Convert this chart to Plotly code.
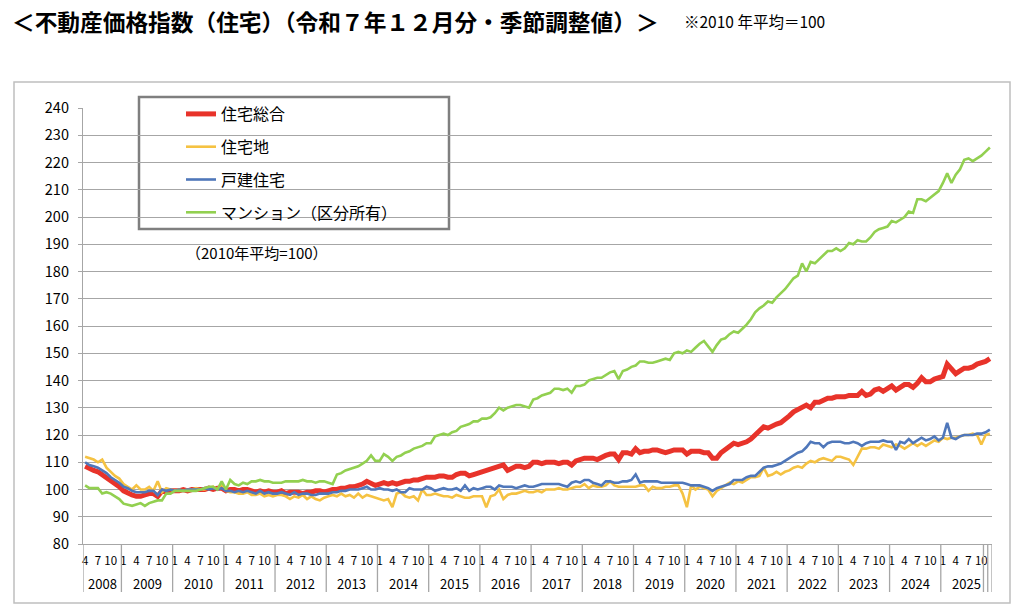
import plotly.graph_objects as go

# ---------------- data ----------------
# monthly categories: Apr 2008 .. Dec 2025
years = [2008] * 9 + [y for y in range(2009, 2026) for _ in range(12)]
months = list(range(4, 13)) + [m for _ in range(2009, 2026) for m in range(1, 13)]
year_labels = [str(y) for y in range(2008, 2026)]
month_tick_labels = ["1", "4", "7", "10"]

series_names = ["住宅総合", "住宅地", "戸建住宅", "マンション（区分所有）"]

sogo = [
    108.5, 107.5, 107.0, 106.5, 105.5, 104.5, 103.0, 102.0, 101.0,
    99.5, 98.5, 98.0, 97.5, 97.5, 98.0, 98.5, 98.5, 97.5, 99.5, 99.0, 99.5,
    99.5, 99.5, 100.0, 99.5, 100.0, 100.0, 100.0, 100.0, 100.5, 100.0, 100.5, 100.5,
    99.5, 100.0, 100.0, 99.5, 100.0, 100.0, 99.5, 99.0, 99.5, 99.0, 99.5, 99.0,
    99.0, 99.5, 98.5, 99.0, 99.0, 99.0, 98.5, 99.0, 99.0, 99.5, 99.5, 99.0,
    99.5, 100.0, 100.0, 100.5, 100.5, 101.0, 101.0, 101.5, 102.0, 103.0, 102.0, 101.5,
    102.0, 102.5, 102.0, 102.5, 102.0, 102.5, 103.0, 103.0, 103.5, 103.5, 104.0, 104.5,
    104.5, 104.5, 105.0, 105.0, 104.5, 104.5, 105.5, 106.0, 106.0, 105.0, 105.5, 106.0,
    106.5, 107.0, 107.5, 108.0, 108.5, 109.0, 107.0, 108.0, 108.5, 108.5, 108.0, 108.5,
    110.0, 110.0, 109.5, 110.0, 110.0, 110.0, 109.5, 110.0, 110.0, 109.0, 110.5, 111.0,
    111.5, 111.5, 111.5, 111.0, 112.0, 112.5, 113.0, 113.0, 111.0, 113.5, 113.5, 113.0,
    115.0, 113.5, 114.0, 114.0, 114.5, 114.5, 114.0, 113.5, 114.0, 114.5, 114.5, 114.5,
    113.0, 114.0, 114.0, 114.0, 113.5, 113.5, 111.5, 111.5, 113.5, 114.5, 115.5, 117.0,
    116.5, 117.0, 117.5, 118.5, 120.0, 121.5, 123.0, 122.5, 123.5, 124.0, 124.5, 125.5,
    127.0, 128.5, 129.5, 130.0, 131.0, 130.0, 132.0, 132.0, 133.0, 133.5, 133.5, 134.0,
    134.0, 134.0, 134.5, 134.5, 134.5, 136.0, 134.5, 135.0, 136.5, 137.0, 136.0, 137.0,
    138.0, 136.5, 137.5, 138.5, 138.5, 137.5, 139.0, 141.0, 139.5, 139.5, 140.5, 141.0,
    141.5, 146.0, 144.0, 142.5, 143.5, 144.5, 144.5, 145.0, 146.0, 146.5, 147.0, 148.0,
]

takuchi = [
    112.0, 111.5, 111.0, 110.0, 111.0, 108.0, 106.5, 105.0, 104.0,
    102.0, 101.0, 100.0, 101.5, 100.0, 100.0, 101.0, 99.5, 103.0, 99.0, 100.5, 100.0,
    99.5, 100.0, 99.5, 100.0, 100.0, 100.5, 100.0, 100.0, 100.5, 101.0, 100.0, 102.0,
    99.5, 99.0, 99.0, 98.5, 98.5, 99.0, 98.0, 98.0, 98.5, 97.5, 98.0, 97.5,
    98.0, 98.0, 97.5, 96.5, 97.5, 97.0, 98.0, 96.5, 97.5, 96.5, 96.0, 97.0,
    97.5, 98.0, 97.5, 98.5, 97.5, 98.0, 97.0, 98.5, 97.0, 98.0, 97.5, 97.0,
    96.5, 96.0, 96.5, 93.5, 98.5, 99.0, 97.5, 97.0, 97.5, 96.0, 100.0, 98.0,
    98.0, 98.5, 98.0, 97.5, 97.5, 97.0, 98.0, 97.5, 97.0, 97.0, 97.5, 97.5,
    97.5, 93.5, 97.5, 98.0, 100.0, 96.5, 98.0, 98.5, 98.5, 99.0, 99.5, 99.0,
    99.0, 99.5, 99.0, 100.0, 100.0, 100.0, 100.5, 100.0, 100.0, 100.5, 101.0, 101.0,
    102.0, 100.5, 101.5, 101.0, 101.0, 101.5, 103.0, 101.5, 101.0, 101.0, 101.0, 101.0,
    101.0, 101.5, 101.5, 99.5, 101.0, 100.5, 100.5, 101.0, 101.0, 101.5, 101.5, 98.5,
    93.5, 101.5, 100.0, 101.0, 100.5, 100.0, 97.5, 99.5, 100.5, 101.5, 102.5, 102.0,
    103.0, 102.5, 103.5, 104.5, 104.5, 105.0, 108.0, 105.0, 105.5, 106.5, 105.5, 106.5,
    107.0, 108.0, 108.5, 108.0, 109.5, 110.5, 110.0, 111.0, 111.5, 111.0, 110.5, 112.0,
    112.0, 111.5, 111.0, 109.0, 112.0, 115.0, 115.0, 115.5, 115.5, 115.0, 116.5, 116.0,
    115.5, 116.5, 116.0, 115.0, 116.0, 117.0, 116.0, 117.0, 116.0, 117.0, 118.0, 117.5,
    119.0, 118.5, 119.0, 119.0, 119.5, 120.0, 120.0, 120.5, 120.0, 116.5, 120.0, 120.5,
]

kodate = [
    110.0, 109.0, 108.5, 108.0, 107.0, 106.0, 104.5, 103.5, 102.5,
    101.0, 100.5, 99.5, 99.0, 99.0, 99.0, 99.5, 99.5, 98.0, 100.0, 99.5, 100.0,
    99.5, 100.0, 99.5, 100.0, 100.0, 100.0, 100.0, 100.5, 100.0, 100.5, 100.0, 100.5,
    99.5, 99.5, 99.0, 99.5, 99.0, 99.5, 99.0, 98.5, 99.5, 98.5, 99.0, 98.5,
    98.5, 99.0, 98.5, 98.0, 99.0, 98.0, 98.5, 98.5, 98.0, 98.0, 98.5, 98.5,
    98.5, 99.0, 99.0, 99.5, 99.5, 100.0, 100.0, 100.0, 100.5, 101.0, 100.0, 100.0,
    100.5, 100.0, 100.0, 99.5, 100.0, 99.0, 99.0, 100.5, 100.0, 100.0, 100.0, 101.0,
    100.5, 99.5, 100.0, 100.5, 100.0, 100.0, 100.5, 99.5, 101.5, 99.5, 100.5, 100.0,
    100.5, 101.0, 101.0, 100.0, 101.5, 101.0, 101.0, 101.0, 100.5, 101.0, 101.5, 101.0,
    101.0, 101.5, 102.0, 102.0, 102.0, 102.0, 102.0, 101.5, 101.0, 102.5, 103.0, 102.5,
    103.5, 103.5, 102.5, 102.0, 101.5, 103.0, 103.0, 102.5, 102.5, 103.0, 103.0, 103.5,
    105.5, 102.5, 103.0, 103.0, 103.0, 103.0, 102.5, 102.5, 102.5, 102.5, 102.5, 102.5,
    102.0, 101.5, 101.5, 101.5, 101.0, 100.5, 99.5, 100.5, 101.0, 101.5, 102.0, 103.5,
    103.5, 103.5, 104.5, 105.0, 105.0, 106.5, 108.0, 108.5, 108.5, 109.0, 109.5, 110.5,
    111.5, 112.5, 113.5, 114.0, 115.5, 117.5, 117.0, 117.0, 115.5, 117.0, 117.5, 117.5,
    117.5, 117.0, 117.0, 117.5, 117.0, 116.0, 117.0, 117.5, 117.5, 117.5, 118.0, 117.5,
    117.5, 114.5, 117.5, 117.0, 118.5, 117.0, 118.0, 119.0, 118.0, 118.5, 119.5, 118.0,
    119.0, 124.5, 119.0, 118.5, 119.5, 120.0, 120.0, 120.0, 120.5, 120.5, 121.0, 122.0,
]

mansion = [
    101.5, 100.5, 100.5, 100.5, 98.5, 99.0, 98.5, 97.5, 96.5,
    94.8, 94.5, 94.0, 94.5, 95.0, 94.0, 95.0, 95.5, 96.0, 96.0, 98.5, 98.5,
    99.5, 99.5, 99.5, 99.5, 99.5, 99.5, 100.0, 100.5, 101.0, 101.0, 100.0, 103.0,
    100.0, 103.5, 102.0, 101.5, 102.5, 102.0, 103.0, 103.0, 103.5, 103.0, 103.0, 102.5,
    102.5, 102.5, 103.0, 103.0, 103.0, 103.0, 103.5, 103.0, 103.0, 102.5, 103.0, 103.0,
    102.5, 102.0, 105.5, 106.0, 107.0, 107.5, 108.0, 108.5, 109.5, 110.5, 112.5, 110.5,
    110.5, 113.0, 112.0, 110.5, 112.0, 112.5, 113.5, 114.0, 115.0, 115.5, 116.0, 117.0,
    117.0, 119.5, 120.0, 120.5, 120.0, 121.0, 121.5, 123.0, 123.5, 124.0, 125.0, 125.0,
    126.0, 126.0, 126.5, 128.0, 130.0, 129.0, 130.0, 130.5, 131.0, 131.0, 130.5, 130.0,
    133.0, 133.5, 134.5, 135.0, 135.5, 137.0, 137.0, 136.5, 137.0, 135.5, 138.0, 138.0,
    138.5, 140.0, 140.5, 141.0, 141.0, 142.0, 143.0, 143.5, 140.5, 143.5, 144.0, 145.0,
    145.5, 147.0, 147.0, 146.5, 146.5, 147.0, 147.5, 148.0, 147.5, 150.0, 150.5, 150.0,
    151.0, 150.5, 152.0, 153.5, 154.5, 152.5, 150.5, 153.0, 155.0, 155.5, 157.0, 158.0,
    157.5, 159.0, 160.5, 162.5, 165.0, 166.5, 167.5, 169.0, 168.5, 170.5, 172.0, 173.5,
    175.5, 177.5, 178.5, 183.0, 180.0, 183.5, 183.0, 184.5, 186.0, 187.5, 187.5, 188.5,
    187.5, 188.5, 190.5, 190.0, 191.5, 191.0, 191.0, 192.5, 194.5, 195.5, 196.0, 196.5,
    198.5, 198.0, 199.0, 200.0, 202.0, 201.5, 206.5, 206.5, 205.8, 207.0, 208.0, 209.5,
    212.5, 216.0, 212.5, 215.5, 217.5, 221.0, 221.5, 220.5, 221.5, 222.5, 224.0, 225.5,
]

# ---------------- style ----------------
FONT = "Noto Sans CJK JP"
GRID = "#a6a6a6"
colors = ["#e8332a", "#f5c242", "#4f77ba", "#92d050"]
widths = [5, 2.6, 2.6, 2.6]

W, H = 1024, 615
ML, MR, MT, MB = 83, 32, 108, 71
PW, PH = W - ML - MR, H - MT - MB


def px_x(x):
    return (x - ML) / PW


def px_y(y):
    return (H - MB - y) / PH


idx = list(range(len(months)))

fig = go.Figure()
for name, vals, c, w in zip(series_names, [sogo, takuchi, kodate, mansion], colors, widths):
    fig.add_trace(go.Scatter(
        x=idx, y=vals, mode="lines", name=name, legendgroup=name,
        line=dict(color=c, width=w), hoverinfo="skip",
    ))

tickvals = [i for i in idx if str(months[i]) in month_tick_labels]
ticktext = [str(months[i]) for i in tickvals]

# year group boundaries (category positions)
boundaries = [-0.5]
for i in range(1, len(idx)):
    if years[i] != years[i - 1]:
        boundaries.append(i - 0.5)
boundaries += [len(idx) - 2.5, len(idx) - 1.5, len(idx) - 0.5]

shapes = []
for b in boundaries:
    shapes.append(dict(type="line", xref="x", yref="paper", x0=b, x1=b,
                       y0=0, y1=px_y(592), line=dict(color=GRID, width=1.3)))

# outer chart border
shapes.append(dict(type="rect", xref="paper", yref="paper",
                   x0=px_x(14), x1=px_x(1010), y0=px_y(603), y1=px_y(82),
                   line=dict(color="#bfbfbf", width=1.5), layer="below"))
# legend box
shapes.append(dict(type="rect", xref="paper", yref="paper",
                   x0=px_x(139), x1=px_x(449), y0=px_y(229), y1=px_y(97),
                   fillcolor="white", line=dict(color="#7f7f7f", width=2.5), layer="between"))
# white area behind note text
shapes.append(dict(type="rect", xref="paper", yref="paper",
                   x0=px_x(182), x1=px_x(367), y0=px_y(264), y1=px_y(240),
                   fillcolor="white", line=dict(width=0), layer="between"))

annotations = []
# year labels
for yl in year_labels:
    ys = [i for i in idx if str(years[i]) == yl]
    annotations.append(dict(xref="x", yref="paper", x=(ys[0] + ys[-1]) / 2, y=px_y(583),
                            text=yl, showarrow=False, font=dict(size=13, color="black"),
                            xanchor="center", yanchor="middle"))
# title
annotations.append(dict(xref="paper", yref="paper", x=px_x(10), y=px_y(21),
                        text="＜不動産価格指数（住宅）（令和７年１２月分・季節調整値）＞",
                        showarrow=False, xanchor="left", yanchor="middle",
                        font=dict(size=22.7, color="black", weight="bold")))
annotations.append(dict(xref="paper", yref="paper", x=px_x(682), y=px_y(21),
                        text="※2010 年平均＝100", showarrow=False,
                        xanchor="left", yanchor="middle",
                        font=dict(size=15.5, color="black")))
annotations.append(dict(xref="paper", yref="paper", x=px_x(257), y=px_y(253),
                        text="（2010年平均=100）", showarrow=False,
                        xanchor="center", yanchor="middle",
                        font=dict(size=15, color="black")))

fig.update_layout(
    width=W, height=H,
    margin=dict(l=ML, r=MR, t=MT, b=MB, pad=0),
    paper_bgcolor="white", plot_bgcolor="white",
    font=dict(family=FONT, color="black"),
    showlegend=True,
    legend=dict(x=px_x(181), y=px_y(97), xanchor="left", yanchor="top",
                bgcolor="rgba(0,0,0,0)", borderwidth=0,
                font=dict(size=16, color="black"),
                traceorder="grouped", tracegroupgap=9, itemclick=False),
    xaxis=dict(range=[-0.5, len(idx) - 0.5], tickmode="array",
               tickvals=tickvals, ticktext=ticktext, showgrid=False,
               zeroline=False, showline=True, linecolor=GRID, linewidth=1.3,
               ticks="", tickfont=dict(size=11.5, color="black"),
               ticklabelstandoff=6, tickangle=0),
    yaxis=dict(range=[80, 240], dtick=10, tick0=80, showgrid=True,
               gridcolor=GRID, gridwidth=1.3, zeroline=False,
               showline=True, linecolor=GRID, linewidth=1.3,
               ticks="outside", ticklen=4, tickcolor=GRID, tickwidth=1.3,
               tickfont=dict(size=14.5, color="black"), ticklabelstandoff=6),
    shapes=shapes, annotations=annotations,
)

fig.write_html("out.html", config={"displayModeBar": False},
               post_script="document.body.style.margin='0';")
